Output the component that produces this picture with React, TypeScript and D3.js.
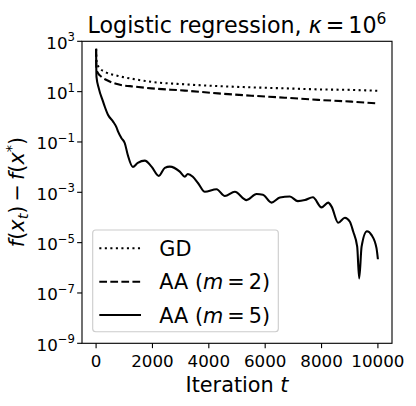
import React from "react";
import * as d3 from "d3";

const gdIter = [0, 10, 50, 131, 309, 781, 1374, 1967, 3149, 4320, 5517, 6700, 7870, 9066, 10000];
const gdVals = [500, 182, 120, 85, 62, 42, 31, 24.5, 19.5, 16.6, 14.8, 13.5, 12.3, 11.7, 10.8];

const aa2Iter = [0, 10, 60, 192, 426, 781, 1374, 1967, 3149, 4331, 5517, 6700, 7881, 9066, 10000];
const aa2Vals = [500, 89, 56, 39, 27, 19.5, 15.8, 13.5, 11, 8.5, 6.9, 5.75, 4.7, 4.0, 3.4];

const aa5Iter = [0, 14, 96, 248, 309, 426, 603, 724, 781, 902, 1019, 1125, 1303, 1480, 1729, 1967, 2226, 2438, 2616, 2971, 3148, 3255, 3433, 3621, 3859, 4274, 4569, 4924, 5339, 5694, 5918, 6226, 6521, 6876, 7160, 7409, 7693, 8001, 8236, 8357, 8590, 8829, 9006, 9123, 9265, 9336, 9421, 9610, 9776, 9950, 10000];
const aa5Log = [2.7, 1.59, 1.13, 0.6, 0.4, 0.07, -0.19, -0.42, -0.59, -0.85, -1.05, -1.52, -1.99, -1.83, -1.74, -1.98, -2.35, -2.03, -1.98, -2.18, -2.38, -2.27, -2.38, -2.64, -2.98, -2.88, -3.15, -2.98, -3.31, -3.07, -3.1, -3.41, -3.21, -3.17, -3.35, -3.31, -3.2, -3.6, -3.41, -3.57, -4.21, -4.01, -4.17, -4.56, -5.16, -6.42, -5.16, -4.55, -4.7, -5.22, -5.66];

const xTicks = [0, 2000, 4000, 6000, 8000, 10000];
const yTickExps = [3, 1, -1, -3, -5, -7, -9];

const legendLabels = ["GD", "AA (m = 2)", "AA (m = 5)"];

const FONT = "DejaVu Sans, sans-serif";
const L = 82, T = 41.3, R = 392, B = 343.3;
const PT = 1.389;
const LW = 1.5 * PT;

export default function App() {
  const x = d3.scaleLinear().domain([-500, 10500]).range([L, R]);
  const y = d3.scaleLog().domain([1e-9, 1e3]).range([B, T]);
  const line = d3
    .line<[number, number]>()
    .x((d) => x(d[0]))
    .y((d) => y(d[1]))
    .curve(d3.curveMonotoneX);

  const gd = line(gdIter.map((t, i) => [t, gdVals[i]]) as [number, number][]) || "";
  const aa2 = line(aa2Iter.map((t, i) => [t, aa2Vals[i]]) as [number, number][]) || "";
  const aa5 = line(aa5Iter.map((t, i) => [t, Math.pow(10, aa5Log[i])]) as [number, number][]) || "";

  const styles = [
    { dash: `${1 * LW},${1.65 * LW}` },
    { dash: `${3.7 * LW},${1.6 * LW}` },
    { dash: "none" },
  ];

  const legX = 92.7, legY = 230, legW = 185.6, legH = 101.7;
  const rows = [248.3, 281.7, 315];
  const tickLen = 3.5 * PT;
  const tickW = 0.8 * PT;

  return (
    <svg width={416} height={406} style={{ display: "block", position: "absolute", left: 0, top: 0 }} fontFamily={FONT}>
      <rect x={0} y={0} width={416} height={406} fill="#fff" />
      <defs>
        <clipPath id="ax">
          <rect x={L} y={T} width={R - L} height={B - T} />
        </clipPath>
      </defs>
      <g clipPath="url(#ax)" fill="none" stroke="#000" strokeWidth={LW}>
        <path d={gd} strokeDasharray={styles[0].dash} />
        <path d={aa2} strokeDasharray={styles[1].dash} />
        <path d={aa5} />
      </g>
      <rect x={L} y={T} width={R - L} height={B - T} fill="none" stroke="#000" strokeWidth={tickW} />
      {xTicks.map((t) => (
        <g key={t}>
          <line x1={x(t)} x2={x(t)} y1={B} y2={B + tickLen} stroke="#000" strokeWidth={tickW} />
          <text x={x(t)} y={366.7} textAnchor="middle" fontSize={16.7}>{t}</text>
        </g>
      ))}
      {yTickExps.map((e) => (
        <g key={e}>
          <line x1={L - tickLen} x2={L} y1={y(Math.pow(10, e))} y2={y(Math.pow(10, e))} stroke="#000" strokeWidth={tickW} />
          <text x={75} y={y(Math.pow(10, e)) + 7.5} textAnchor="end" fontSize={16.7}>
            10<tspan dy={-7.5} fontSize={11.7}>{e < 0 ? "\u2212" + Math.abs(e) : String(e)}</tspan>
          </text>
        </g>
      ))}
      <text x={237} y={392} textAnchor="middle" fontSize={20.8}>
        Iteration <tspan fontStyle="italic">t</tspan>
      </text>
      <text transform="translate(24,192) rotate(-90)" textAnchor="middle" fontSize={20.8}>
        <tspan fontStyle="italic">f</tspan>(<tspan fontStyle="italic">x</tspan>
        <tspan dy={4} fontSize={14.6} fontStyle="italic">t</tspan>
        <tspan dy={-4}>)</tspan>
        <tspan dx={4}>{"\u2212"}</tspan>
        <tspan dx={4} fontStyle="italic">f</tspan>(<tspan fontStyle="italic">x</tspan>
        <tspan dy={-8} fontSize={14.6}>*</tspan>
        <tspan dy={8}>)</tspan>
      </text>
      <text x={237} y={32.7} textAnchor="middle" fontSize={22.2}>
        Logistic regression, <tspan fontStyle="italic">κ</tspan>
        <tspan dx={4}>=</tspan>
        <tspan dx={4}>10</tspan>
        <tspan dy={-9} fontSize={15.5}>6</tspan>
      </text>
      <rect x={legX} y={legY} width={legW} height={legH} rx={3} fill="#fff" fillOpacity={0.8} stroke="#cccccc" strokeWidth={tickW} />
      {legendLabels.map((lab, i) => {
        const m = lab.match(/^AA \(m = (\d)\)$/);
        return (
          <g key={lab}>
            <line x1={99.3} x2={141} y1={rows[i]} y2={rows[i]} stroke="#000" strokeWidth={LW} strokeDasharray={styles[i].dash} />
            <text x={159.3} y={rows[i] + 7.5} fontSize={20.8}>
              {m ? (
                <>
                  AA (<tspan fontStyle="italic">m</tspan>
                  <tspan dx={4}>=</tspan>
                  <tspan dx={4}>{m[1]}</tspan>)
                </>
              ) : (
                lab
              )}
            </text>
          </g>
        );
      })}
    </svg>
  );
}
